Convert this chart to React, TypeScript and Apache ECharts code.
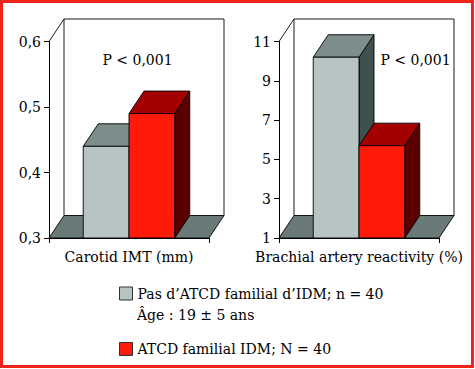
import React, { useEffect, useRef } from "react";
import * as echarts from "echarts";

// ---- data ----
const groupNames = ["Pas d\u2019ATCD familial d\u2019IDM; n = 40", "ATCD familial IDM; N = 40"];
const ageNote = "\u00C2ge : 19 \u00B1 5 ans";
const pNote = "P < 0,001";

const imtCategory = ["Carotid IMT (mm)"];
const imtValues = [0.44, 0.49];
const imtMin = 0.3;
const imtMax = 0.6;
const imtStep = 0.1;

const bracCategory = ["Brachial artery reactivity (%)"];
const bracValues = [10.2, 5.7];
const bracMin = 1;
const bracMax = 11;
const bracStep = 2;

// ---- style ----
const FONT = "DejaVu Serif";
const FS = 14;
const DX = 15;
const DY = -22.5;
const FLOOR = "#6a7a78";
const faces = [
  { front: "#b8c4c4", top: "#7d8d8b", side: "#3f514f" },
  { front: "#ff1a0a", top: "#a30000", side: "#5a0000" },
];
const EDGE = { stroke: "#000", lineWidth: 0.9 };

function frameRender(params: any) {
  const cs = params.coordSys;
  const L = cs.x, R = cs.x + cs.width, T = cs.y, B = cs.y + cs.height;
  return {
    type: "group",
    children: [
      {
        type: "polygon",
        shape: { points: [[L, B], [R, B], [R + DX, B + DY], [L + DX, B + DY]] },
        style: { fill: FLOOR, ...EDGE },
      },
      {
        type: "polyline",
        shape: { points: [[L + DX, B + DY], [L + DX, T + DY], [R + DX, T + DY], [R + DX, B + DY]] },
        style: { fill: null, ...EDGE },
      },
      { type: "line", shape: { x1: L, y1: T, x2: L + DX, y2: T + DY }, style: { ...EDGE } },
    ],
  };
}

function barRender(idx: number) {
  return (params: any, api: any) => {
    const cs = params.coordSys;
    const top = api.coord([api.value(0), api.value(1)]);
    const band = api.size([1, 0])[0];
    const w = band * 0.286;
    const x0 = idx === 0 ? top[0] - w : top[0];
    const x1 = x0 + w;
    const yT = top[1];
    const yB = cs.y + cs.height;
    const f = faces[idx];
    return {
      type: "group",
      children: [
        {
          type: "polygon",
          shape: { points: [[x1, yB], [x1 + DX, yB + DY], [x1 + DX, yT + DY], [x1, yT]] },
          style: { fill: f.side, ...EDGE },
        },
        {
          type: "polygon",
          shape: { points: [[x0, yT], [x1, yT], [x1 + DX, yT + DY], [x0 + DX, yT + DY]] },
          style: { fill: f.top, ...EDGE },
        },
        {
          type: "rect",
          shape: { x: x0, y: yT, width: w, height: yB - yT },
          style: { fill: f.front, ...EDGE },
        },
      ],
    };
  };
}

const fmt = (v: number) => String(Math.round(v * 10) / 10).replace(".", ",");

export default function App() {
  const ref = useRef<HTMLDivElement>(null);
  useEffect(() => {
    if (!ref.current) return;
    const chart = echarts.init(ref.current, null, { renderer: "svg" });
    const axisLine = { show: true, lineStyle: { color: "#000", width: 1 } };
    const textBase = { fontFamily: FONT, fontSize: FS, color: "#000" };
    const mkX = (gi: number, data: string[]) => ({
      type: "category",
      gridIndex: gi,
      data,
      axisLine,
      axisTick: { show: true, length: 5, lineStyle: { color: "#000" } },
      axisLabel: { ...textBase, margin: 12 },
      splitLine: { show: false },
    });
    const mkY = (gi: number, min: number, max: number, step: number) => ({
      type: "value",
      gridIndex: gi,
      min,
      max,
      interval: step,
      axisLine,
      axisTick: { show: true, length: 5, lineStyle: { color: "#000" } },
      axisLabel: { ...textBase, margin: 8, formatter: fmt },
      splitLine: { show: false },
    });
    const barSeries = (gi: number, vals: number[]) =>
      vals.map((v, i) => ({
        type: "custom",
        name: groupNames[i],
        xAxisIndex: gi,
        yAxisIndex: gi,
        data: [[0, v]],
        itemStyle: { color: faces[i].front },
        renderItem: barRender(i),
        z: 3 + i,
      }));
    const txt = (x: number, y: number, text: string, align: string) => ({
      type: "text",
      x,
      y,
      style: { text, fontFamily: FONT, fontSize: FS, fill: "#000", align, verticalAlign: "middle" },
    });
    chart.setOption({
      animation: false,
      backgroundColor: "#fff",
      grid: [
        { left: 49, width: 160, top: 41.5, bottom: 131 },
        { left: 279, width: 160, top: 41.5, bottom: 131 },
      ],
      xAxis: [mkX(0, imtCategory), mkX(1, bracCategory)],
      yAxis: [mkY(0, imtMin, imtMax, imtStep), mkY(1, bracMin, bracMax, bracStep)],
      legend: {
        data: groupNames,
        orient: "vertical",
        left: 114,
        top: 281.5,
        itemWidth: 13,
        itemHeight: 13,
        itemGap: 41.5,
        icon: "rect",
        selectedMode: false,
        itemStyle: { borderColor: "#333", borderWidth: 1 },
        textStyle: { ...textBase },
      },
      series: [
        { type: "custom", xAxisIndex: 0, yAxisIndex: 0, data: [[0, imtMin]], renderItem: frameRender, silent: true, z: 1 },
        { type: "custom", xAxisIndex: 1, yAxisIndex: 1, data: [[0, bracMin]], renderItem: frameRender, silent: true, z: 1 },
        ...barSeries(0, imtValues),
        ...barSeries(1, bracValues),
      ],
      graphic: [
        { type: "rect", shape: { x: 1.5, y: 1.5, width: 471, height: 365 }, style: { fill: null, stroke: "#f0231a", lineWidth: 3 }, z: 10 },
        txt(137.5, 60, pNote, "center"),
        txt(415.5, 60, pNote, "center"),
        txt(137, 315, ageNote, "left"),
      ],
    });
    return () => chart.dispose();
  }, []);
  return <div ref={ref} style={{ position: "absolute", left: 0, top: 0, width: 475, height: 369 }} />;
}
